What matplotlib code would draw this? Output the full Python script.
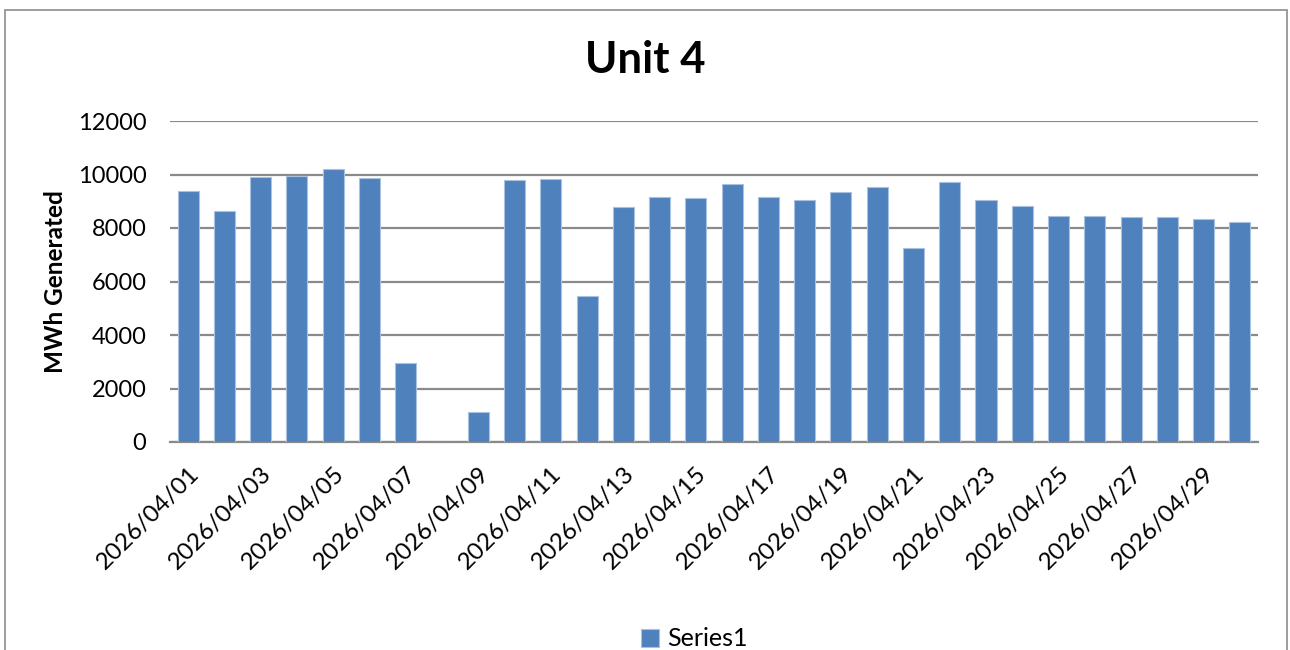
import matplotlib
matplotlib.use("Agg")
import matplotlib.pyplot as plt
from matplotlib.patches import Rectangle
import numpy as np

# Daily generation for the month
dates = [f"2026/04/{d:02d}" for d in range(1, 31)]
mwh = [9390, 8630, 9890, 9960, 10190, 9860, 2950, 0, 1120, 9790,
       9830, 5470, 8800, 9150, 9120, 9660, 9170, 9030, 9360, 9540,
       7260, 9730, 9040, 8830, 8440, 8440, 8400, 8400, 8350, 8230]
series_name = "Series1"
y_ticks = [0, 2000, 4000, 6000, 8000, 10000, 12000]

plt.rcParams['font.family'] = ['Lato', 'DejaVu Sans']

fig = plt.figure(figsize=(12.9, 6.5), dpi=100)
fig.patch.set_facecolor("white")

# chart frame
fig.add_artist(Rectangle((5 / 1290, -0.05), 1282 / 1290, 1 - 10 / 650 + 0.05,
                         transform=fig.transFigure, fill=False,
                         edgecolor="#8c8c8c", linewidth=1.2))

ax = fig.add_axes([170 / 1290, 1 - 442 / 650, (1258 - 170) / 1290, (442 - 121) / 650])

x = np.arange(len(dates))
bars = ax.bar(x, mwh, width=0.58, color="#4F81BD", edgecolor="#A9C2E2",
              linewidth=0.8, label=series_name, zorder=3)

ax.set_xlim(-0.5, len(dates) - 0.5)
ax.set_ylim(0, 12000)
ax.set_yticks(y_ticks)
ax.set_yticklabels([str(v) for v in y_ticks], fontsize=17)
ax.yaxis.grid(True, color="#8a8a8a", linewidth=1.6, zorder=0)
ax.set_axisbelow(True)

ax.set_xticks(x[::2])
ax.set_xticklabels(dates[::2], rotation=45, ha="right", va="top",
                   rotation_mode="anchor", fontsize=17.5)
ax.tick_params(axis="both", length=0)
ax.tick_params(axis="x", pad=15)
ax.tick_params(axis="y", pad=17)

for s in ["top", "right", "left"]:
    ax.spines[s].set_visible(False)
ax.spines["bottom"].set_color("#8a8a8a")
ax.spines["bottom"].set_linewidth(1.6)

ax.set_ylabel("MWh Generated", fontsize=17.5, fontweight="bold", labelpad=8)

fig.text(0.5, 1 - 60 / 650, "Unit 4", ha="center", va="center",
         fontsize=31.5, fontweight="bold")

fig.legend(handles=[bars], labels=[series_name], loc="center",
           bbox_to_anchor=(0.538, 1 - 639 / 650), frameon=False,
           fontsize=18, handlelength=0.75, handleheight=0.75,
           handletextpad=0.3)

fig.savefig("out.png", dpi=100, facecolor="white")
